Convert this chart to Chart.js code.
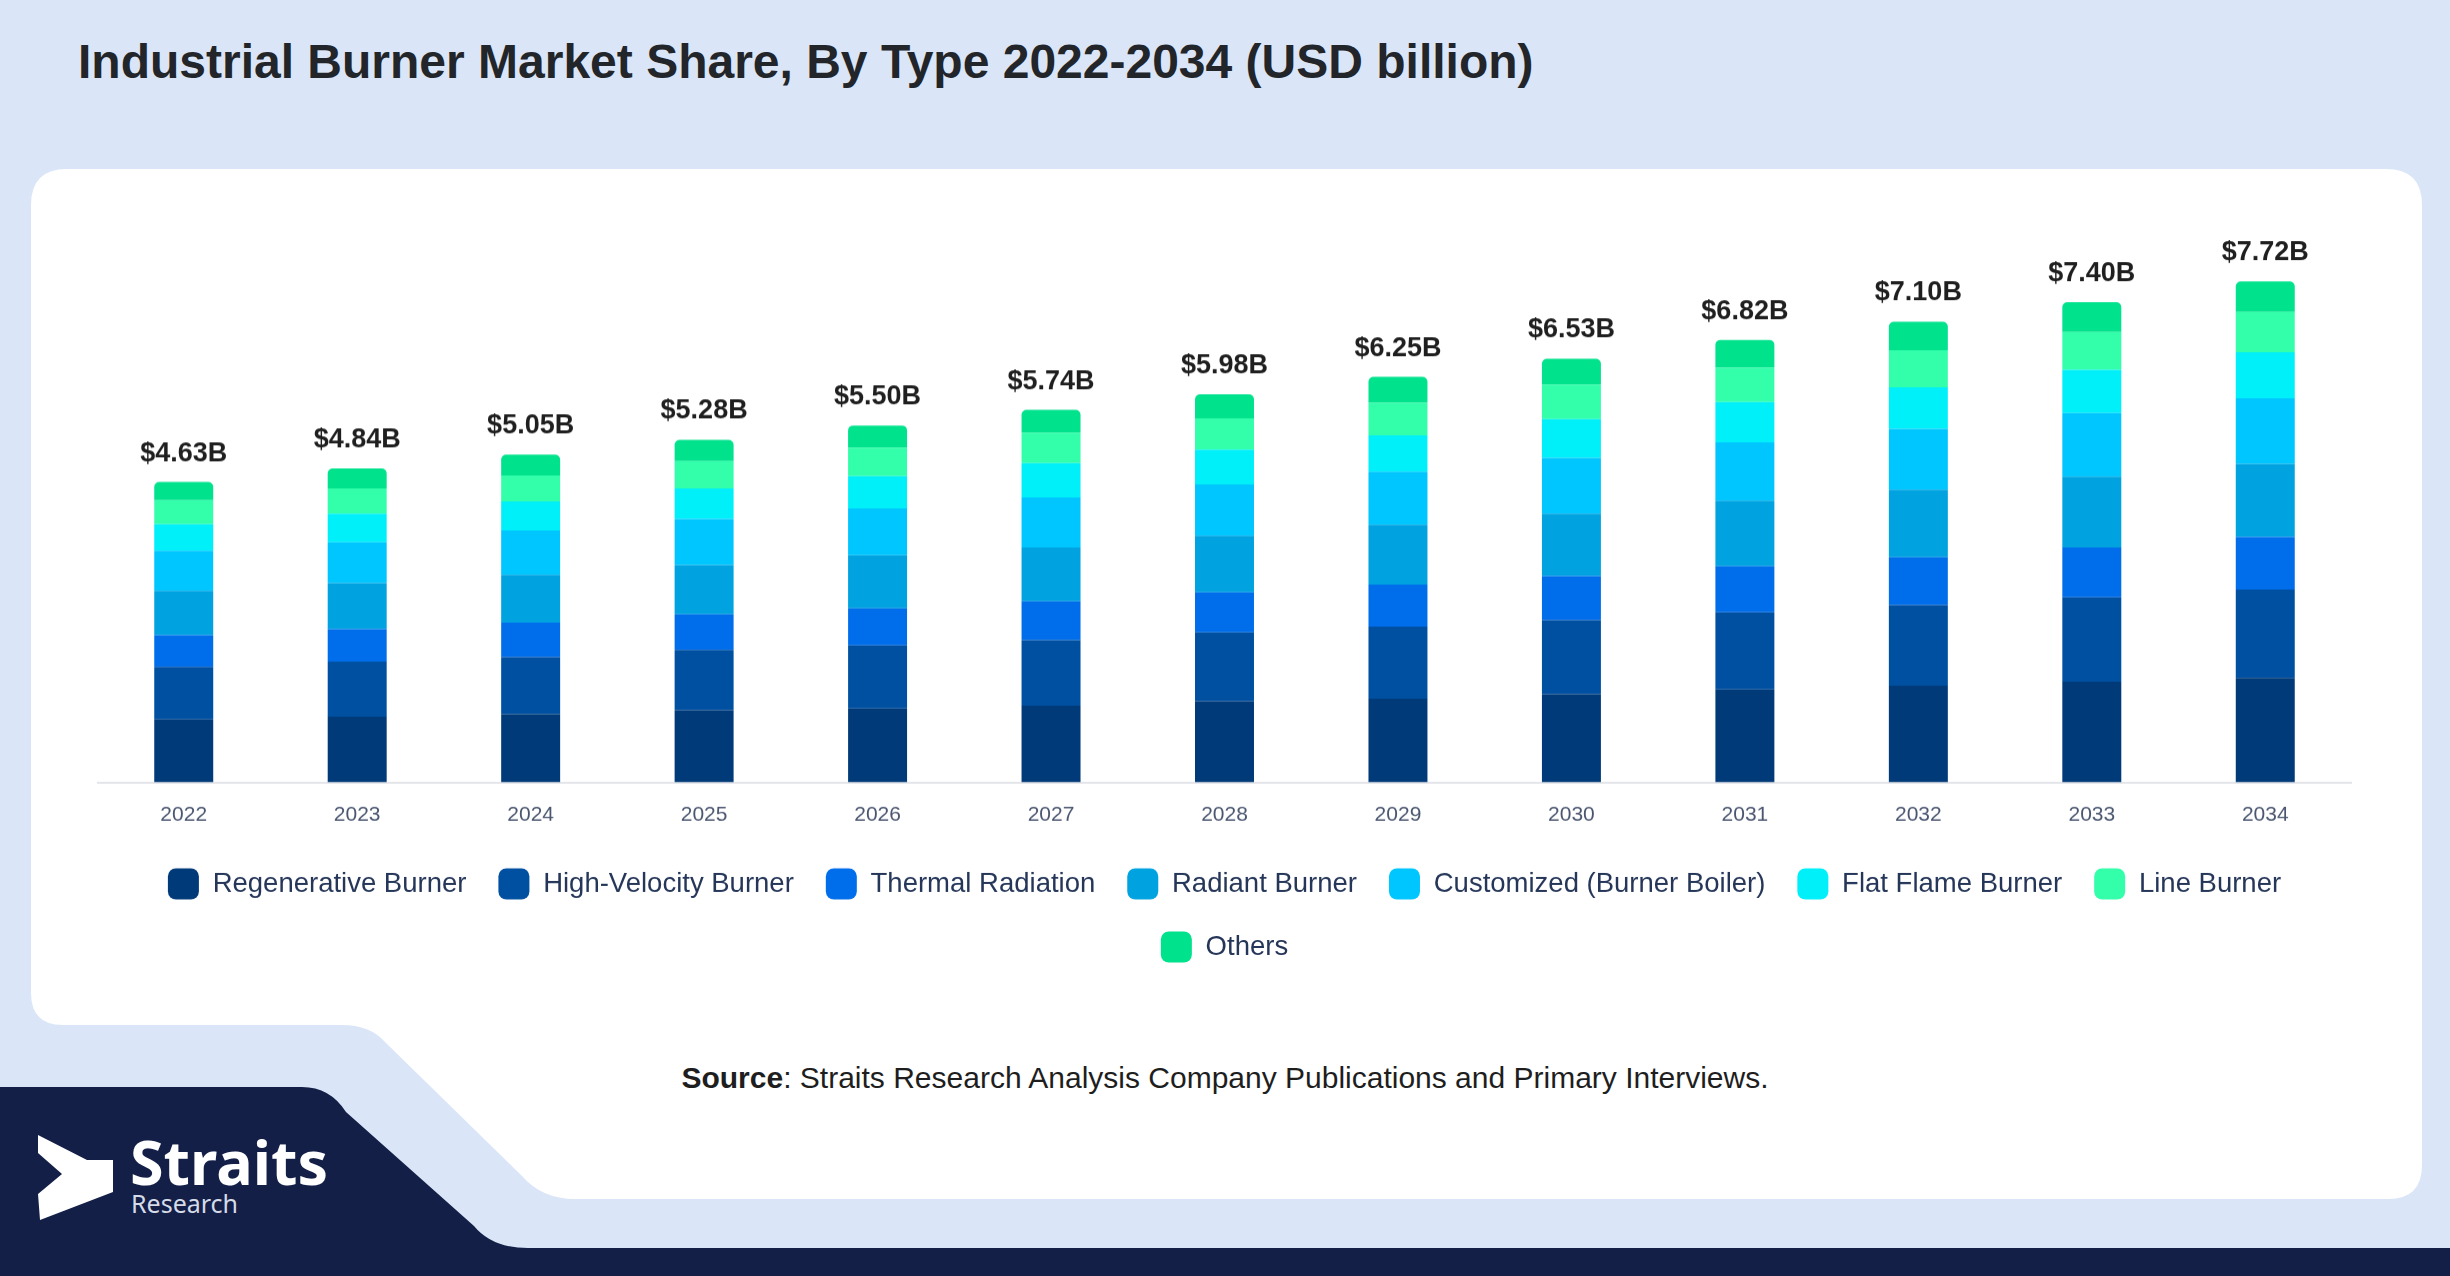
<!DOCTYPE html>
<html>
<head>
<meta charset="utf-8">
<script src="https://cdn.jsdelivr.net/npm/chart.js@4.4.1/dist/chart.umd.min.js"></script>
<style>
  html, body { margin: 0; padding: 0; }
  body { width: 2450px; height: 1276px; position: relative; overflow: hidden; background: #dae6f8; font-family: "Liberation Sans", Arial, sans-serif; }
  #bg { position: absolute; left: 0; top: 0; }
  #wrap { position: absolute; left: 97px; top: 166px; width: 2255px; height: 805.5px; }
</style>
</head>
<body>
<svg id="bg" width="2450" height="1276" viewBox="0 0 2450 1276">
  <!-- white card with the cut-away corner bottom left -->
  <path fill="#ffffff" d="M 31 205 Q 31 169 67 169 L 2386 169 Q 2422 169 2422 205 L 2422 1165 Q 2422 1199 2388 1199 L 575 1199 Q 542 1199 522 1176 L 385 1042 Q 370 1025 342 1025 L 63 1025 Q 31 1025 31 993 Z"/>
  <!-- navy band -->
  <path fill="#131f47" d="M 0 1087 L 302 1087 Q 330 1087 346 1112 L 474 1226 Q 492 1248 528 1248 L 2450 1248 L 2450 1276 L 0 1276 Z"/>
  <!-- logo -->
  <polygon fill="#ffffff" points="38,1135 87,1160 113,1160 113,1192 40,1220 38,1194 62,1174 38,1153"/>
  <text x="130" y="1185" fill="#ffffff" font-family="Noto Sans" font-weight="bold" font-size="61">Straits</text>
  <text x="131" y="1213" fill="#d6dbe8" font-family="Noto Sans" font-size="25">Research</text>
  <!-- title and source -->
  <text x="78" y="78" fill="#222529" font-family="Liberation Sans, Arial, sans-serif" font-weight="bold" font-size="48">Industrial Burner Market Share, By Type 2022-2034 (USD billion)</text>
  <text x="1225" y="1088" text-anchor="middle" fill="#1e1e1e" font-family="Liberation Sans, Arial, sans-serif" font-size="30"><tspan font-weight="bold">Source</tspan>: Straits Research Analysis Company Publications and Primary Interviews.</text>
</svg>
<div id="wrap"><canvas id="chart"></canvas></div>
<script>
// years on the x axis
const years = ["2022", "2023", "2024", "2025", "2026", "2027", "2028", "2029", "2030", "2031", "2032", "2033", "2034"];

// segment values, USD billion
const regenerative = [0.97, 1.01, 1.05, 1.11, 1.14, 1.18, 1.25, 1.29, 1.36, 1.43, 1.49, 1.55, 1.61];
const highVelocity = [0.81, 0.85, 0.88, 0.93, 0.97, 1.01, 1.06, 1.11, 1.14, 1.19, 1.24, 1.30, 1.36];
const thermalRadiation = [0.49, 0.50, 0.53, 0.55, 0.57, 0.60, 0.62, 0.65, 0.68, 0.71, 0.74, 0.77, 0.81];
const radiant = [0.68, 0.71, 0.74, 0.76, 0.82, 0.83, 0.87, 0.92, 0.96, 1.01, 1.04, 1.09, 1.13];
const customized = [0.62, 0.63, 0.68, 0.71, 0.72, 0.77, 0.79, 0.82, 0.86, 0.90, 0.94, 0.98, 1.01];
const flatFlame = [0.41, 0.44, 0.45, 0.47, 0.50, 0.53, 0.54, 0.56, 0.60, 0.62, 0.64, 0.67, 0.71];
const lineBurner = [0.37, 0.39, 0.40, 0.42, 0.44, 0.47, 0.48, 0.50, 0.53, 0.53, 0.57, 0.58, 0.62];
const others = [0.28, 0.31, 0.32, 0.33, 0.34, 0.35, 0.37, 0.40, 0.40, 0.43, 0.44, 0.46, 0.47];

// totals printed above each bar
const totals = [4.63, 4.84, 5.05, 5.28, 5.50, 5.74, 5.98, 6.25, 6.53, 6.82, 7.10, 7.40, 7.72];

const FONT = '"Liberation Sans", Arial, sans-serif';
Chart.defaults.font.family = FONT;

// draws "$x.xxB" above the top segment of every stack
const totalLabels = {
    id: "totalLabels",
    afterDatasetsDraw(chart) {
        const ctx = chart.ctx;
        const meta = chart.getDatasetMeta(chart.data.datasets.length - 1);
        ctx.save();
        ctx.font = "bold 27px " + FONT;
        ctx.fillStyle = "#1f1f1f";
        ctx.textAlign = "center";
        ctx.textBaseline = "alphabetic";
        meta.data.forEach((bar, i) => {
            ctx.fillText("$" + totals[i].toFixed(2) + "B", bar.x, bar.y - 21);
        });
        ctx.restore();
    }
};

function series(label, data, color, radius) {
    return {
        label: label,
        data: data,
        backgroundColor: color,
        borderWidth: 0,
        borderRadius: radius || 0,
        borderSkipped: false,
        categoryPercentage: 1,
        barPercentage: 0.34
    };
}

new Chart(document.getElementById("chart"), {
    type: "bar",
    data: {
        labels: years,
        datasets: [
            series("Regenerative Burner", regenerative, "#003a78"),
            series("High-Velocity Burner", highVelocity, "#0050a2"),
            series("Thermal Radiation", thermalRadiation, "#006eeb"),
            series("Radiant Burner", radiant, "#00a3e0"),
            series("Customized (Burner Boiler)", customized, "#00c6ff"),
            series("Flat Flame Burner", flatFlame, "#00f0fa"),
            series("Line Burner", lineBurner, "#33ffab"),
            series("Others", others, "#00e28c", { topLeft: 5, topRight: 5, bottomLeft: 0, bottomRight: 0 })
        ]
    },
    options: {
        responsive: true,
        maintainAspectRatio: false,
        animation: false,
        layout: { padding: 0 },
        scales: {
            x: {
                stacked: true,
                grid: { display: false, drawTicks: false },
                border: { display: true, color: "#e3e5ea", width: 2 },
                ticks: { color: "#4a5670", font: { size: 21 }, padding: 20 },
                afterFit(scale) { scale.height = 54; }
            },
            y: {
                stacked: true,
                display: false,
                min: 0,
                max: 9.5
            }
        },
        plugins: {
            legend: {
                position: "bottom",
                labels: {
                    color: "#253659",
                    font: { size: 27.5 },
                    boxWidth: 31,
                    boxHeight: 31,
                    useBorderRadius: true,
                    borderRadius: 8,
                    padding: 32
                }
            },
            tooltip: { enabled: false },
            title: { display: false }
        }
    },
    plugins: [totalLabels]
});
</script>
</body>
</html>
